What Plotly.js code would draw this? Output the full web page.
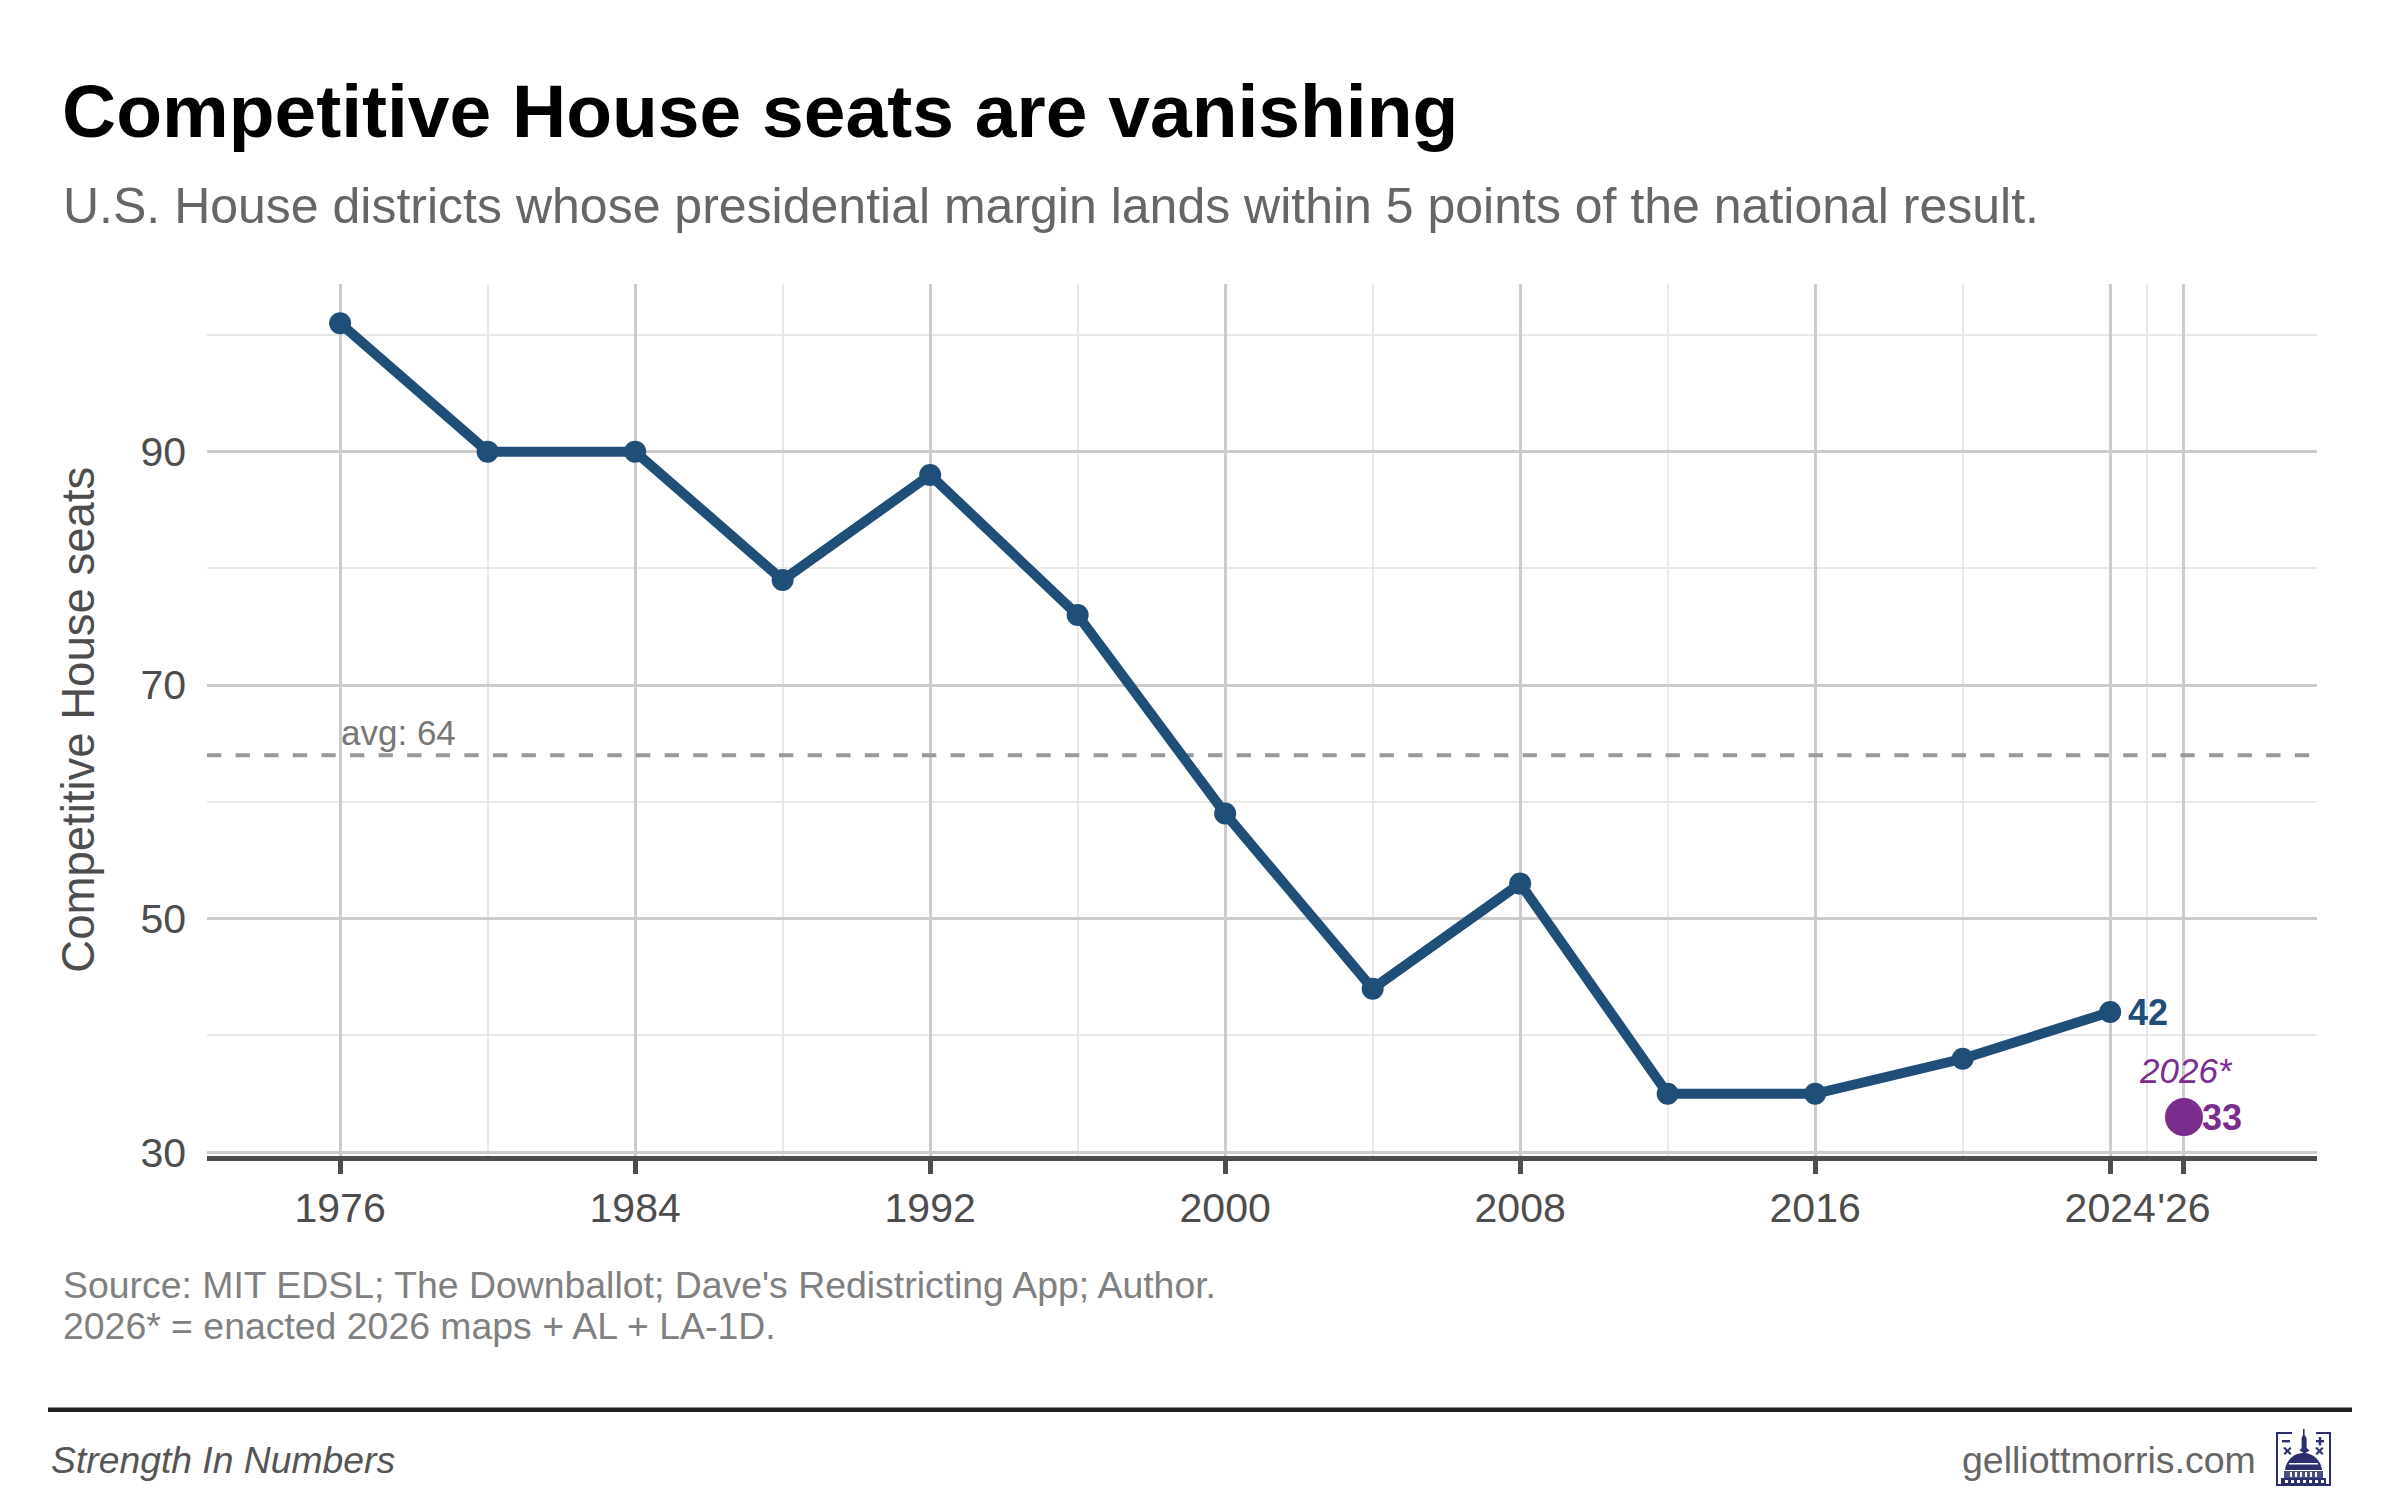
<!DOCTYPE html>
<html><head><meta charset="utf-8">
<script src="https://cdn.plot.ly/plotly-3.0.1.min.js"></script>
<style>html,body{margin:0;padding:0;background:#fff}#c{width:2400px;height:1500px}</style>
</head><body><div id="c"></div>
<script>
const years=[1976,1980,1984,1988,1992,1996,2000,2004,2008,2012,2016,2020,2024];
const seats=[101,90,90,79,88,76,59,44,53,35,35,38,42];
const year2026=[2026];
const seats2026=[33];
const average=64;
const xRange=[1972.39,2029.6];
const yRange=[29.67,104.4];
const xMajor=[1976,1984,1992,2000,2008,2016,2024,2026];
const xMajorLabels=['1976','1984','1992','2000','2008','2016','2024',"'26"];
const xMinor=[1980,1988,1996,2004,2012,2020,2025];
const yMajor=[30,50,70,90];
const yMinor=[40,60,80,100];
const FONT='"Liberation Sans", Arial, sans-serif';
const W=2400,H=1500;
const px=v=>v/W, py=v=>1-v/H;
const BLUE='#1F4E79',PURPLE='#7B2D8E';
const logo='<svg xmlns="http://www.w3.org/2000/svg" viewBox="0 0 55 57"><g fill="#2B2F6E">'
+'<path d="M0 3H16V5H2V55H53V5H40V3H55V57H0Z"/>'
+'<rect x="6" y="11" width="8" height="2.4"/><rect x="40" y="11" width="8" height="2.4"/><rect x="42.8" y="8" width="2.4" height="8.4"/>'
+'<path d="M7 19l2-1 2.5 2.5L14 18l1.5 1.5L13 22l2.5 2.5L14 26l-2.5-2.5L9 26l-1.5-1.5L10 22z"/>'
+'<path d="M39 19l2-1 2.5 2.5L46 18l1.5 1.5L45 22l2.5 2.5L46 26l-2.5-2.5L41 26l-1.5-1.5L42 22z"/>'
+'<path d="M27 0h1.6v6l2 3v10l3 2.5-5 3-5-3 2-2.5V9l1.4-3z"/>'
+'<path d="M9 41c1-9 8-17 18.500-17S45 32 46 41z"/>'
+'<path d="M8 42h39v7H8z" fill-opacity=".85"/><path d="M5 49h45v6H5z"/></g>'
+'<g fill="#fff"><rect x="13" y="34" width="29" height="1.500"/><rect x="14" y="43" width="2" height="5"/><rect x="19" y="43" width="2" height="5"/><rect x="24" y="43" width="2" height="5"/><rect x="29" y="43" width="2" height="5"/><rect x="34" y="43" width="2" height="5"/><rect x="39" y="43" width="2" height="5"/>'
+'<rect x="9" y="51" width="3" height="3"/><rect x="15" y="51" width="3" height="3"/><rect x="21" y="51" width="3" height="3"/><rect x="27" y="51" width="3" height="3"/><rect x="33" y="51" width="3" height="3"/><rect x="39" y="51" width="3" height="3"/><rect x="45" y="51" width="3" height="3"/></g></svg>';
const paperText=(x,y,text,size,color,anchor,italic)=>({xref:'paper',yref:'paper',x:px(x),y:py(y),text:text,showarrow:false,xanchor:anchor,yanchor:'middle',align:'left',borderpad:0,font:{family:FONT,size:size,color:color,style:italic?'italic':'normal'}});
const traces=[
 {x:xRange,y:[average,average],mode:'lines',line:{color:'#999999',width:4,dash:'14.3px,14.3px'},hoverinfo:'skip',showlegend:false},
 {x:years,y:seats,mode:'lines+markers',line:{color:BLUE,width:10},marker:{color:BLUE,size:22},showlegend:false},
 {x:year2026,y:seats2026,mode:'markers',marker:{color:PURPLE,size:38},showlegend:false}
];
const layout={
 width:W,height:H,paper_bgcolor:'#fff',plot_bgcolor:'#fff',showlegend:false,
 margin:{l:0,r:0,t:0,b:0,autoexpand:false},font:{family:FONT},
 title:{text:'<b>Competitive House seats are vanishing</b>',x:px(62),xanchor:'left',xref:'container',y:py(110.5),yref:'container',yanchor:'middle',font:{family:FONT,size:75,color:'#000'}},
 xaxis:{domain:[px(207),px(2316.7)],range:xRange,tickmode:'array',tickvals:xMajor,ticktext:xMajorLabels,tickangle:0,
  showgrid:true,gridcolor:'#CCCCCC',gridwidth:3,zeroline:false,
  minor:{tickmode:'array',tickvals:xMinor,showgrid:true,gridcolor:'#E8E8E8',gridwidth:2,ticks:''},
  showline:true,linecolor:'#4D4D4D',linewidth:5,ticks:'outside',ticklen:13,tickwidth:5,tickcolor:'#4D4D4D',
  tickfont:{family:FONT,size:41,color:'#4D4D4D'},ticklabelstandoff:-1},
 yaxis:{domain:[py(1156),py(283.5)],range:yRange,tickmode:'array',tickvals:yMajor,
  showgrid:true,gridcolor:'#CCCCCC',gridwidth:3,zeroline:false,
  minor:{tickmode:'array',tickvals:yMinor,showgrid:true,gridcolor:'#E8E8E8',gridwidth:2,ticks:''},
  showline:false,ticks:'',tickfont:{family:FONT,size:41,color:'#4D4D4D'},ticklabelstandoff:20,
  title:{text:'Competitive House seats',standoff:31,font:{family:FONT,size:45.5,color:'#4D4D4D'}}},
 shapes:[{type:'line',xref:'paper',yref:'paper',x0:px(48),x1:px(2352),y0:py(1409.7),y1:py(1409.7),line:{color:'#222222',width:4.5}}],
 images:[{source:'data:image/svg+xml;utf8,'+encodeURIComponent(logo),xref:'paper',yref:'paper',x:px(2276),y:py(1429),sizex:55/W,sizey:57/H,xanchor:'left',yanchor:'top',sizing:'stretch',layer:'above'}],
 annotations:[
  paperText(62,205.5,'U.S. House districts whose presidential margin lands within 5 points of the national result.',50,'#666666','left'),
  paperText(62,1285,"Source: MIT EDSL; The Downballot; Dave's Redistricting App; Author.",37.4,'#808080','left'),
  paperText(62,1326,"2026* = enacted 2026 maps + AL + LA-1D.",37.4,'#808080','left'),
  paperText(49.5,1459.5,'Strength In Numbers',37.3,'#555555','left',true),
  paperText(2257,1459.5,'gelliottmorris.com',37.5,'#666666','right'),
  {x:years[years.length-1],y:seats[seats.length-1],xref:'x',yref:'y',text:'<b>'+seats[seats.length-1]+'</b>',showarrow:false,xanchor:'left',yanchor:'middle',xshift:16.5,borderpad:0,font:{family:FONT,size:36,color:BLUE}},
  {x:year2026[0],y:seats2026[0],xref:'x',yref:'y',text:'<b>'+seats2026[0]+'</b>',showarrow:false,xanchor:'left',yanchor:'middle',xshift:17,borderpad:0,font:{family:FONT,size:36,color:PURPLE}},
  {x:year2026[0],y:seats2026[0],xref:'x',yref:'y',text:'2026*',showarrow:false,xanchor:'center',yanchor:'middle',yshift:47,xshift:2,borderpad:0,font:{family:FONT,size:35,color:PURPLE,style:'italic'}},
  {x:years[0],y:average,xref:'x',yref:'y',text:'avg: '+average,showarrow:false,xanchor:'left',yanchor:'middle',yshift:23,borderpad:0,font:{family:FONT,size:35,color:'#777777'}}
 ]
};
Plotly.newPlot('c',traces,layout,{displayModeBar:false,staticPlot:true});
</script></body></html>
